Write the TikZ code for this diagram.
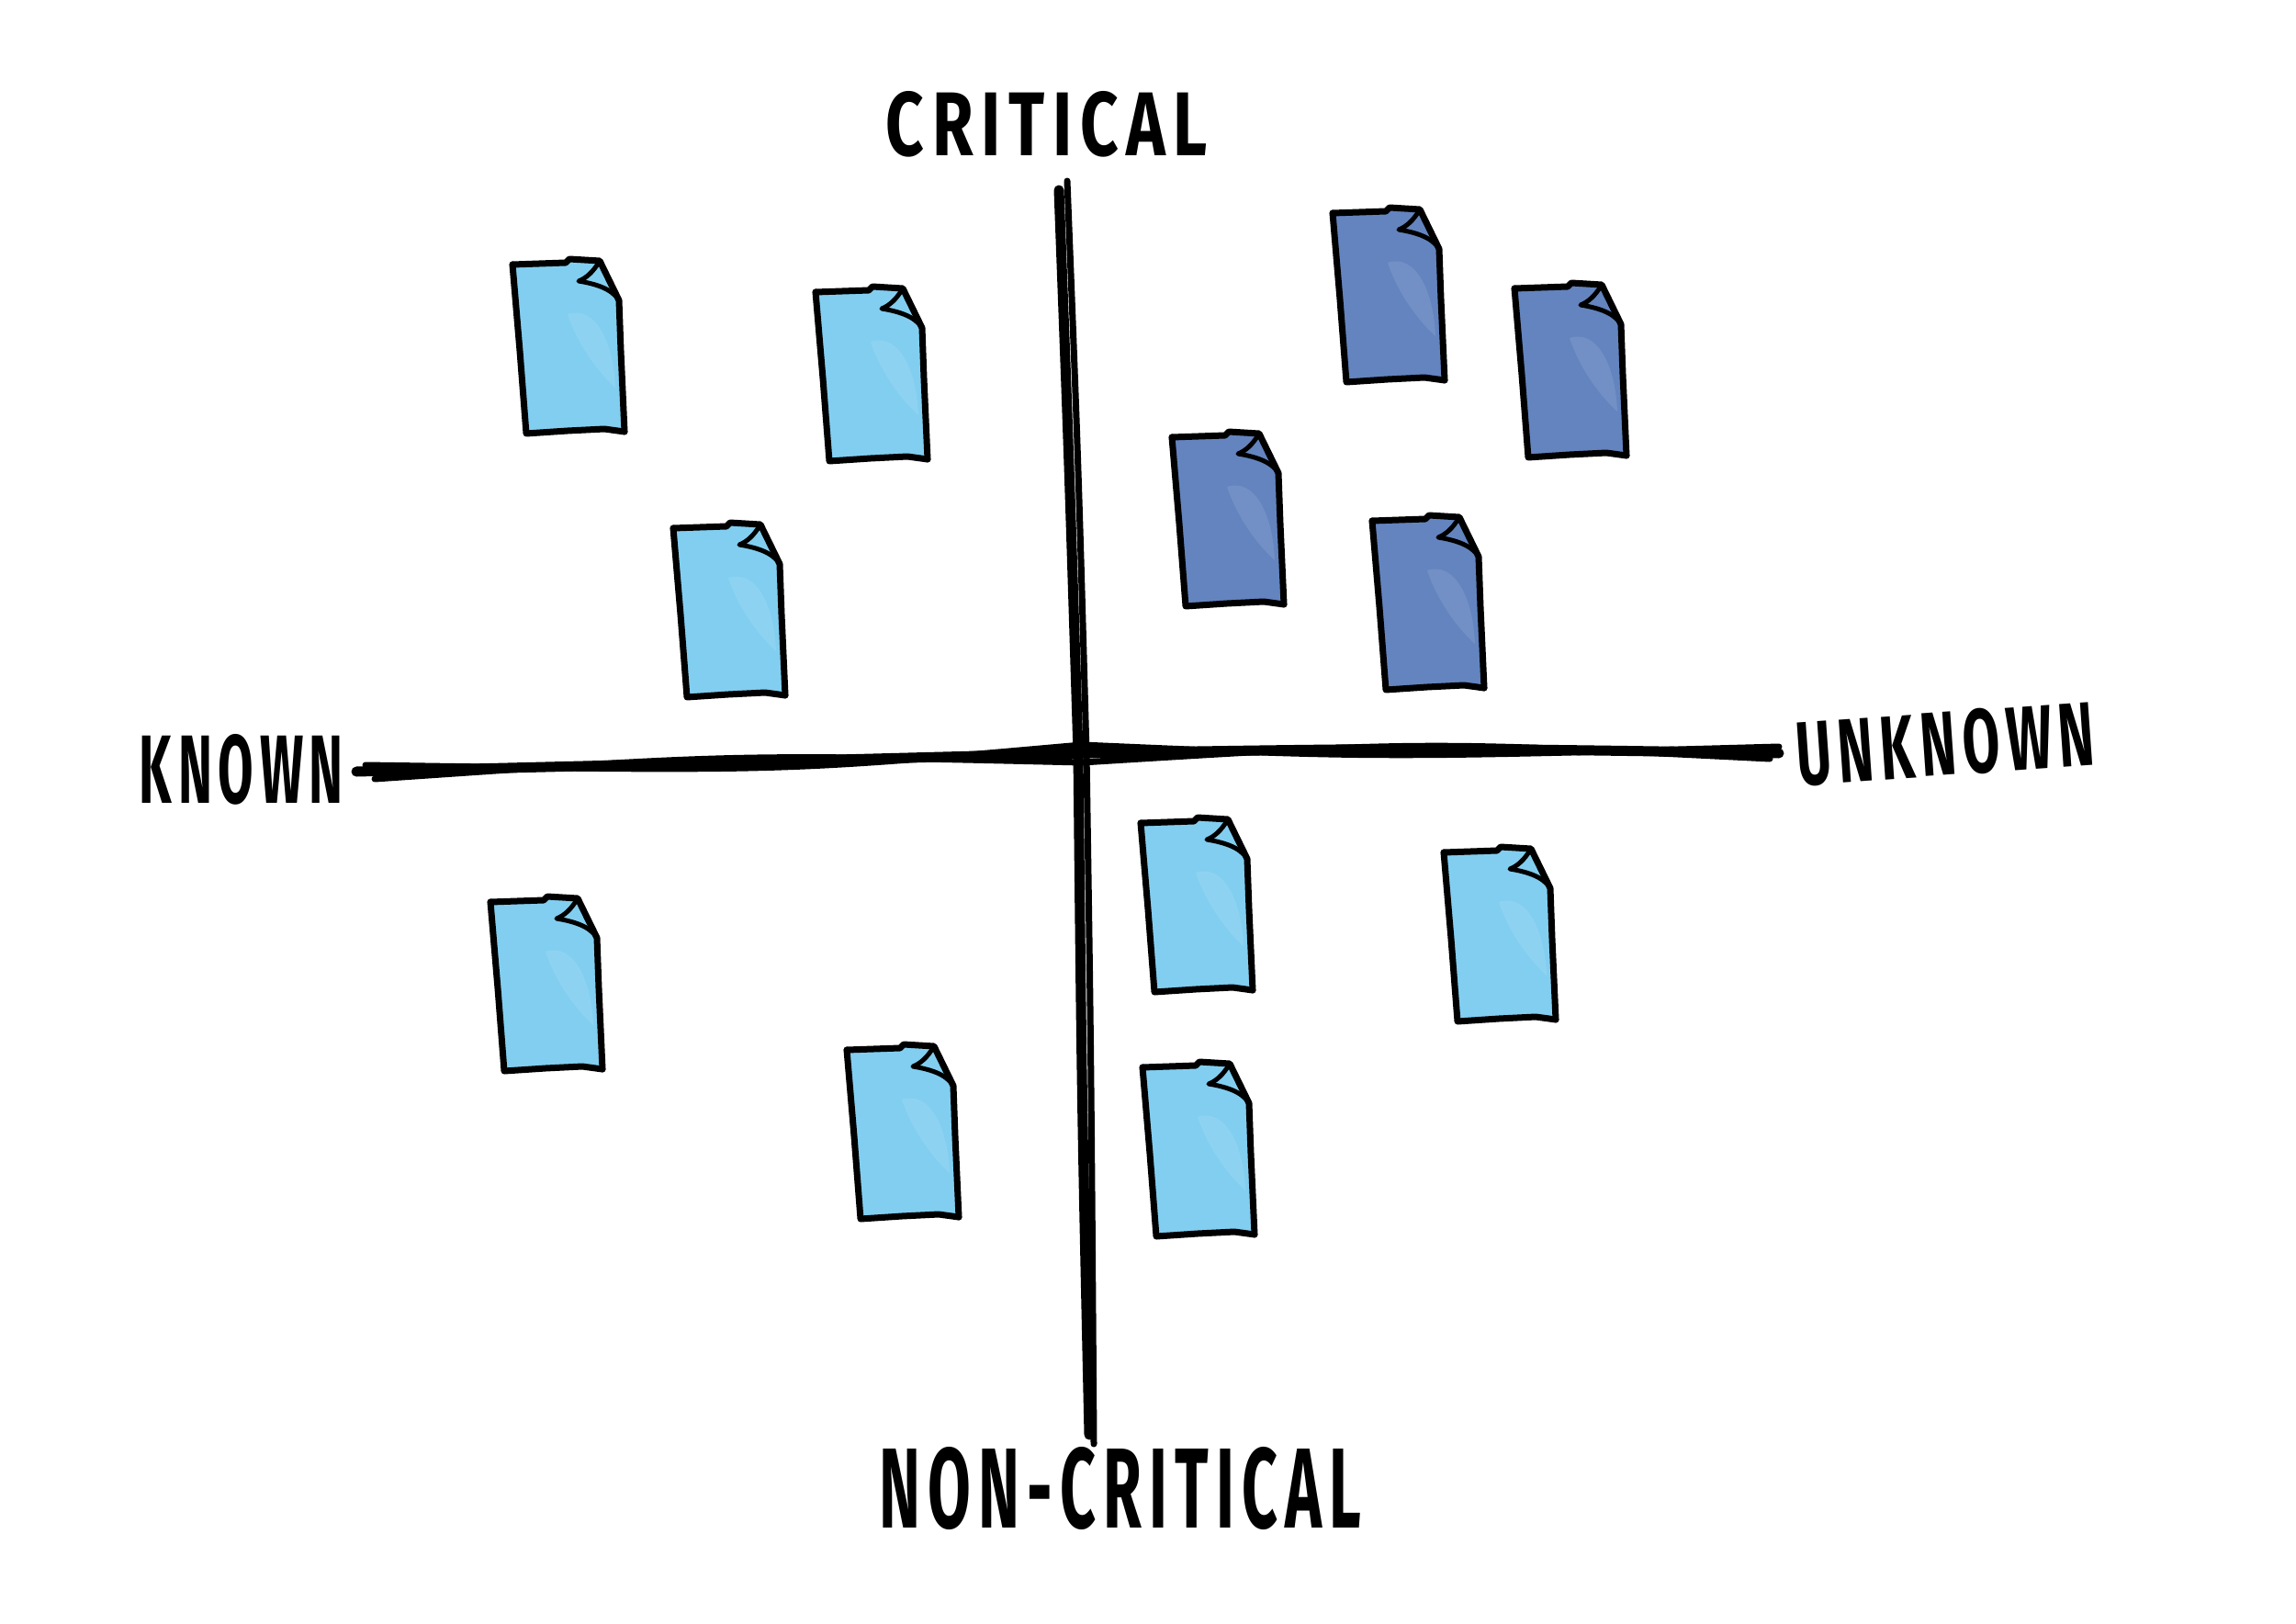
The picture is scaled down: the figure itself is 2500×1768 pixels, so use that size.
\documentclass[tikz,border=0pt]{standalone}
\usepackage{fontspec}
\setmainfont{Fira Sans}
\usepackage{graphicx}
\definecolor{lightnote}{HTML}{82CEF0}
\definecolor{darknote}{HTML}{6384BF}
\tikzset{
  notestroke/.style={line width=7pt, line join=round, line cap=round, black},
  axisstroke/.style={line width=11pt, line cap=round, black},
  axisthin/.style={line width=7pt, line cap=round, black},
  lbl/.style={inner sep=0pt, font=\bfseries\addfontfeature{LetterSpace=12}},
  pics/note/.style={code={
    \fill[#1] (0,6) -- (58,4) -- (62,0) -- (95,2) -- (116,45) -- (118,100) -- (122,188) -- (100,186) -- (15,190) -- cycle;
    \fill[white, opacity=0.1] (60,60) .. controls (90,50) and (110,90) .. (112,140) .. controls (90,120) and (70,90) .. (60,60) -- cycle;
    \draw[notestroke] (0,6) -- (58,4) -- (62,0) -- (95,2) -- (116,45) -- (118,100) -- (122,188);
    \draw[notestroke] (0,6) -- (8,100) -- (15,190) -- (60,187) -- (100,185) -- (122,188);
    \draw[notestroke, line width=5pt] (95,2) .. controls (88,14) and (80,21) .. (72,24) .. controls (90,27) and (108,32) .. (116,45);
  }}
}
\begin{document}
\begin{tikzpicture}[x=1pt, y=-1pt]
\useasboundingbox[fill=white] (0,0) rectangle (2500,1768);

% notes
\pic at (558,282) {note=lightnote};
\pic at (888,312) {note=lightnote};
\pic at (733,569) {note=lightnote};
\pic at (534,976) {note=lightnote};
\pic at (922,1137) {note=lightnote};
\pic at (1242,890) {note=lightnote};
\pic at (1572,922) {note=lightnote};
\pic at (1244,1156) {note=lightnote};
\pic at (1451,226) {note=darknote};
\pic at (1649,308) {note=darknote};
\pic at (1276,470) {note=darknote};
\pic at (1494,561) {note=darknote};

% axes
\coordinate (vt) at (1156,207);
\coordinate (vm) at (1178,820);
\coordinate (vb) at (1188,1562);
\coordinate (hl) at (388,840);
\coordinate (hm) at (1178,820);
\coordinate (hr) at (1937,820);

\draw[axisstroke] ([xshift=-3pt]vt) .. controls (1164,500) .. ([xshift=-4pt]vm) .. controls (1178,1200) .. ([xshift=-2pt]vb);
\draw[axisthin] ([xshift=6pt,yshift=10pt]vt) .. controls (1174,500) .. ([xshift=5pt]vm) .. controls (1188,1150) .. ([xshift=3pt,yshift=-10pt]vb);
\draw[axisstroke] (hl) .. controls (800,830) .. (hm) .. controls (1550,814) .. (hr);
\draw[axisthin] ([yshift=-8pt,xshift=20pt]hl) .. controls (800,821) .. ([yshift=-10pt]hm) .. controls (1550,807) .. ([yshift=-6pt,xshift=-10pt]hr);
\draw[axisthin] ([yshift=7pt,xshift=10pt]hl) .. controls (850,840) .. ([yshift=9pt]hm) .. controls (1500,825) .. ([yshift=7pt]hr);

% labels
\node[lbl] (crit) at (1140,135) {\resizebox{350pt}{70pt}{CRITICAL}};
\node[lbl] (known) at (263,838) {\resizebox{222pt}{75pt}{KNOWN}};
\node[lbl, rotate=4] (unknown) at (2118,810) {\resizebox{325pt}{70pt}{UNKNOWN}};
\node[lbl] (noncrit) at (1220,1620) {\resizebox{524pt}{88pt}{NON-CRITICAL}};
\end{tikzpicture}
\end{document}
